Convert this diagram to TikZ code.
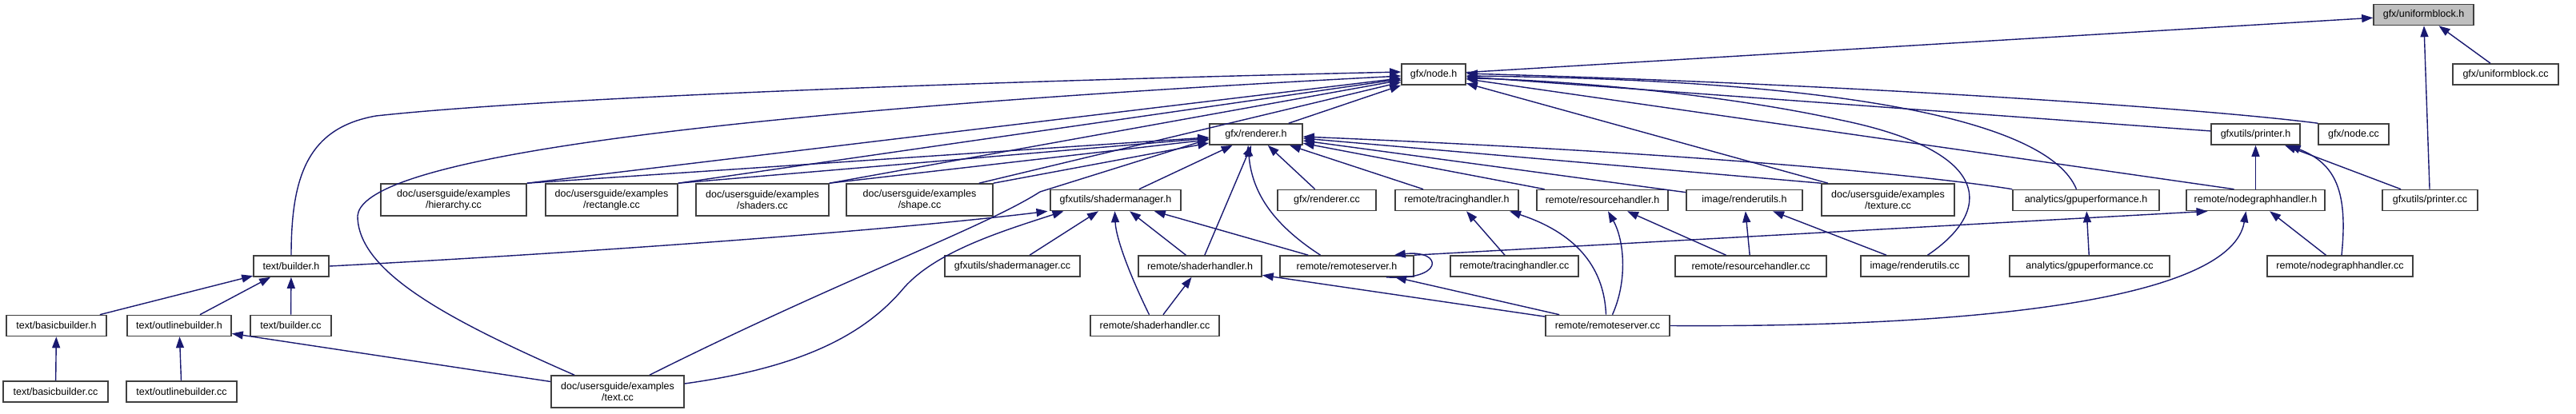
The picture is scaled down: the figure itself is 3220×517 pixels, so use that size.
\documentclass[tikz,border=0pt]{standalone}
\usepackage{fontspec}
\setmainfont{Liberation Sans}
\usepackage{tikz}
\usetikzlibrary{positioning,arrows.meta}
\definecolor{edgeblue}{HTML}{191970}
\definecolor{rootgray}{HTML}{BFBFBF}

\begin{document}
\begin{tikzpicture}[
  x=1pt, y=-1pt,
  font=\fontsize{12.5}{14}\selectfont,
  >={Triangle[length=14pt,width=10pt]},
  file/.style={rectangle, draw=black!75, fill=white, line width=1.6pt,
    minimum height=26pt, inner sep=0pt, align=center},
  root/.style={file, fill=rootgray},
  twoline/.style={file, minimum height=40pt},
  ar/.style={->, line width=1.4pt, draw=edgeblue}
]
\useasboundingbox (0,0) rectangle (3220,517);
% Root header
\node[root, minimum width=125pt] (ub) at (3029.5,18.5) {gfx/uniformblock.h};
% Second rank
\node[file, minimum width=80pt]  (nodeh) at (1792,93)  {gfx/node.h};
\node[file, minimum width=132pt] (ubcc)  at (3132,93)  {gfx/uniformblock.cc};
% Third rank
\node[file, minimum width=116pt] (rend)   at (1570,168)   {gfx/renderer.h};
\node[file, minimum width=111pt] (prth)   at (2819.5,168) {gfxutils/printer.h};
\node[file, minimum width=88pt]  (nodecc) at (2942,168)   {gfx/node.cc};
% Fourth rank
\node[twoline, minimum width=182pt] (hier)  at (567,250)    {doc/usersguide/examples\\/hierarchy.cc};
\node[twoline, minimum width=165pt] (rect)  at (764.5,250)  {doc/usersguide/examples\\/rectangle.cc};
\node[twoline, minimum width=166pt] (shad)  at (953,250)    {doc/usersguide/examples\\/shaders.cc};
\node[twoline, minimum width=183pt] (shape) at (1149.5,250) {doc/usersguide/examples\\/shape.cc};
\node[file, minimum width=163pt] (smh)    at (1394.5,250.5) {gfxutils/shadermanager.h};
\node[file, minimum width=123pt] (rendcc) at (1658.5,250.5) {gfx/renderer.cc};
\node[file, minimum width=154pt] (trch)   at (1821,250.5)   {remote/tracinghandler.h};
\node[file, minimum width=164pt] (resh)   at (2003,250.5)   {remote/resourcehandler.h};
\node[file, minimum width=145pt] (ruh)    at (2180.5,250.5) {image/renderutils.h};
\node[twoline, minimum width=166pt] (tex) at (2360,250)     {doc/usersguide/examples\\/texture.cc};
\node[file, minimum width=183pt] (gpuh)   at (2607.5,250.5) {analytics/gpuperformance.h};
\node[file, minimum width=173pt] (ngh)    at (2819.5,250.5) {remote/nodegraphhandler.h};
\node[file, minimum width=119pt] (prtcc)  at (3037.5,250.5) {gfxutils/printer.cc};
% Fifth rank
\node[file, minimum width=94pt]  (bldh)  at (364,333)    {text/builder.h};
\node[file, minimum width=169pt] (smcc)  at (1265.5,333) {gfxutils/shadermanager.cc};
\node[file, minimum width=154pt] (shh)   at (1500,333)   {remote/shaderhandler.h};
\node[file, minimum width=167pt] (rsh)   at (1683.5,333) {remote/remoteserver.h};
\node[file, minimum width=160pt] (trcc)  at (1893,333)   {remote/tracinghandler.cc};
\node[file, minimum width=189pt] (rescc) at (2188.5,333) {remote/resourcehandler.cc};
\node[file, minimum width=135pt] (rucc)  at (2393.5,333) {image/renderutils.cc};
\node[file, minimum width=200pt] (gpucc) at (2612,333)   {analytics/gpuperformance.cc};
\node[file, minimum width=182pt] (ngcc)  at (2925,333)   {remote/nodegraphhandler.cc};
% Sixth rank
\node[file, minimum width=125pt] (bbh)   at (70.5,407.5)   {text/basicbuilder.h};
\node[file, minimum width=130pt] (obh)   at (224,407.5)    {text/outlinebuilder.h};
\node[file, minimum width=101pt] (bldcc) at (363.5,407.5)  {text/builder.cc};
\node[file, minimum width=161pt] (shcc)  at (1443.5,407.5) {remote/shaderhandler.cc};
\node[file, minimum width=155pt] (rscc)  at (2009.5,407.5) {remote/remoteserver.cc};
% Last rank
\node[file, minimum width=131pt] (bbcc) at (69.5,490) {text/basicbuilder.cc};
\node[file, minimum width=138pt] (obcc) at (227,490)  {text/outlinebuilder.cc};
\node[twoline, minimum width=166pt] (txt) at (772,490) {doc/usersguide/examples\\/text.cc};
% into gfx/uniformblock.h
\draw[ar] (nodeh) -- (ub);
\draw[ar] (ubcc) -- (ub);
\draw[ar] (prtcc) -- (ub);
% into gfx/node.h
\draw[ar] (rend) -- (nodeh);
\draw[ar] (hier.north east) -- (nodeh);
\draw[ar] (rect.north east) -- (nodeh);
\draw[ar] (shad.north east) -- (nodeh);
\draw[ar] ([xshift=-18pt]shape.north east) -- (nodeh);
\draw[ar] (tex) -- (nodeh);
\draw[ar] (prth) -- (nodeh);
\draw[ar] (nodecc.north west) .. controls (2750,135) and (2300,105) .. ([yshift=1pt]nodeh.east);
\draw[ar] ([xshift=-27pt]ngh.north) -- (nodeh);
\draw[ar] ([xshift=-12pt]gpuh.north) .. controls (2560,150) and (2300,100) .. ([yshift=-2pt]nodeh.east);
\draw[ar] ([xshift=16pt]rucc.north) .. controls (2490,265) and (2495,190) .. (2300,150)
  .. controls (2150,117) and (1950,100) .. ([yshift=-5pt]nodeh.east);
\draw[ar] (bldh.north) .. controls (364,220) and (385,160) .. (470,145)
  .. controls (700,120) and (1300,100) .. ([yshift=3pt]nodeh.west);
\draw[ar] ([xshift=-54pt]txt.north) .. controls (560,400) and (447,340) .. (447,270)
  .. controls (452,215) and (700,150) .. ([yshift=-2pt]nodeh.west);
% into gfx/renderer.h
\draw[ar] (hier.north east) -- (rend);
\draw[ar] (rect.north east) -- (rend);
\draw[ar] (shad.north east) -- (rend);
\draw[ar] (shape.north east) -- (rend);
\draw[ar] ([xshift=40pt]txt.north) .. controls (1050,350) and (1230,285) .. (1300,240)
  -- ([yshift=-6pt]rend.west);
\draw[ar] (smh) -- (rend);
\draw[ar] (shh) -- (rend);
\draw[ar] ([xshift=-33pt]rsh.north) .. controls (1590,280) and (1565,240) .. ([xshift=-10pt]rend.south);
\draw[ar] (rendcc) -- (rend);
\draw[ar] (trch) -- (rend);
\draw[ar] (resh) -- (rend);
\draw[ar] (ruh) -- (rend);
\draw[ar] (tex.north west) -- (rend);
\draw[ar] (gpuh.north west) .. controls (2450,226) and (2200,195) .. ([yshift=-3pt]rend.east);
% into gfxutils/shadermanager.h
\draw[ar] (bldh.east) .. controls (700,318) and (1100,290) .. ([xshift=-85pt]smh.south);
\draw[ar] ([yshift=10pt]txt.east) .. controls (1000,460) and (1080,420) .. (1130,360)
  .. controls (1170,315) and (1250,290) .. ([xshift=-65pt]smh.south);
\draw[ar] (smcc) -- (smh);
\draw[ar] ([xshift=-7pt]shcc.north) .. controls (1415,350) and (1395,300) .. ([xshift=-1pt]smh.south);
\draw[ar] (shh) -- (smh);
\draw[ar] (rsh) -- (smh);
% into remote/remoteserver.h
\draw[ar] (rscc) -- (rsh);
\draw[ar] ([xshift=-35pt]rsh.south east) .. controls (1805,352) and (1805,312) .. ([xshift=-25pt]rsh.north east);
% into remote/shaderhandler.h
\draw[ar] (shcc) -- (shh);
\draw[ar] (rscc) -- (shh);
% into the handler headers
\draw[ar] (trcc) -- (trch);
\draw[ar] ([xshift=-2pt]rscc.north) .. controls (2005,330) and (1965,290) .. ([xshift=66pt]trch.south);
\draw[ar] (rescc) -- (resh);
\draw[ar] ([xshift=6pt]rscc.north) .. controls (2035,350) and (2030,300) .. ([xshift=7pt]resh.south);
\draw[ar] (rescc) -- (ruh);
\draw[ar] (rucc) -- (ruh);
\draw[ar] (gpucc) -- (gpuh);
% into remote/nodegraphhandler.h
\draw[ar] (rsh.north east) -- ([xshift=-60pt]ngh.south);
\draw[ar] (rscc.east) .. controls (2500,410) and (2790,370) .. ([xshift=-12pt]ngh.south);
\draw[ar] (ngcc) -- (ngh);
% into gfxutils/printer.h
\draw[ar] (ngh) -- (prth);
\draw[ar] (prtcc) -- (prth);
\draw[ar] ([xshift=2pt]ngcc.north) .. controls (2935,240) and (2920,205) .. ([xshift=42pt]prth.south);
% text builders
\draw[ar] (bbh) -- (bldh);
\draw[ar] (obh) -- (bldh);
\draw[ar] (bldcc) -- (bldh);
\draw[ar] (bbcc) -- (bbh);
\draw[ar] (obcc) -- (obh);
\draw[ar] (txt) -- (obh);
\end{tikzpicture}
\end{document}
